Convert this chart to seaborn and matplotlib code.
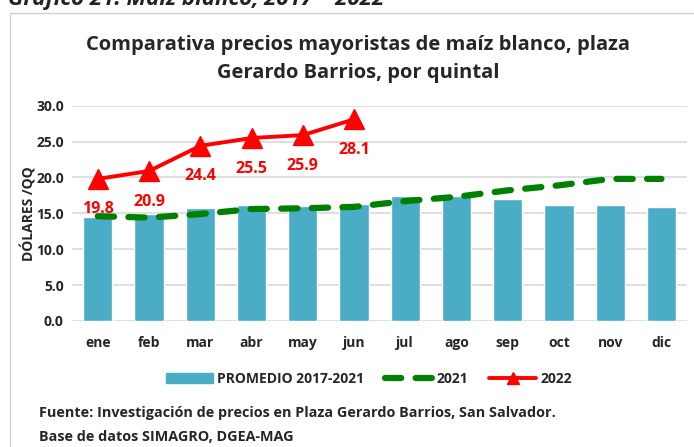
import matplotlib
matplotlib.use("Agg")
import matplotlib.pyplot as plt
import matplotlib.patches as mpatches
from matplotlib.lines import Line2D
import seaborn as sns
import numpy as np
import pandas as pd

# data
meses = ['ene', 'feb', 'mar', 'abr', 'may', 'jun', 'jul', 'ago', 'sep', 'oct', 'nov', 'dic']
promedio = [14.5, 14.9, 15.7, 16.2, 16.0, 16.3, 17.4, 17.4, 17.0, 16.2, 16.1, 15.9]
precio_2021 = [14.6, 14.4, 14.9, 15.6, 15.7, 15.9, 16.7, 17.3, 18.2, 18.9, 19.8, 19.8]
precio_2022 = [19.8, 20.9, 24.4, 25.5, 25.9, 28.1]

sns.set_theme(style="white")
plt.rcParams['font.family'] = ['Open Sans', 'DejaVu Sans']

fig = plt.figure(figsize=(6.94, 4.47), dpi=100)
ax = fig.add_axes([0.104, 0.282, 0.886, 0.4815])

# outer frame of the chart box
fig.patches.append(mpatches.Rectangle((10/694, -0.05), 1.0, 1 - 13/447 + 0.05,
                                      transform=fig.transFigure, fill=False,
                                      edgecolor='#d0d0d0', linewidth=1.0))

df = pd.DataFrame({'mes': meses, 'promedio': promedio})
sns.barplot(data=df, x='mes', y='promedio', color='#4bacc6', saturation=1,
            width=0.57, ax=ax, zorder=2)

x = np.arange(len(meses))
ax.plot(x, precio_2021, color='#008000', lw=4.5, dashes=(2.6, 2.3),
        dash_capstyle='round', zorder=3)
x22 = np.arange(len(precio_2022))
ax.plot(x22, precio_2022, color='#ff0000', lw=2.8, marker='^', markersize=15,
        zorder=4)
for xi, v in zip(x22, precio_2022):
    ax.annotate(f'{v:.1f}', (xi, v), xytext=(0, -22), textcoords='offset points',
                ha='center', va='center', color='#ff0000', fontsize=11.5,
                fontweight='bold', zorder=5)

ax.set_ylim(0, 30)
ax.set_xlim(-0.5, 11.5)
ax.set_yticks(np.arange(0, 31, 5))
ax.set_yticklabels([f'{t:.1f}' for t in np.arange(0, 31, 5)], fontsize=10, fontweight='bold')
ax.set_xticks(x)
ax.set_xticklabels(meses, fontsize=10, fontweight='bold')
ax.tick_params(axis='x', pad=11, length=0)
ax.tick_params(axis='y', length=0, pad=6)
ax.set_xlabel('')
ax.set_ylabel('DÓLARES /QQ', fontsize=10, fontweight='bold', labelpad=0)
ax.grid(axis='y', color='#d9d9d9', lw=1.2, zorder=0)
ax.set_axisbelow(True)
for s in ax.spines.values():
    s.set_visible(False)

fig.text(8/694, 1 + 1/447, 'Gráfico 21: Maíz blanco, 2017 – 2022', fontsize=16,
         fontweight='bold', fontstyle='italic', color='#222222', va='center', ha='left')
fig.text(358/694, 1 - 59/447,
         'Comparativa precios mayoristas de maíz blanco, plaza\nGerardo Barrios, por quintal',
         fontsize=14.5, fontweight='bold', ha='center', va='center', linespacing=1.5)

handles = [mpatches.Patch(color='#4bacc6'),
           Line2D([], [], color='#008000', lw=4.5, dashes=(2.6, 2.3), dash_capstyle='round'),
           Line2D([], [], color='#ff0000', lw=2.8, marker='^', markersize=8)]
fig.legend(handles, ['PROMEDIO 2017-2021', '2021', '2022'], loc='center',
           bbox_to_anchor=(369/694, 1 - 379/447), ncol=3, frameon=False,
           prop={'weight': 'bold', 'size': 10}, handlelength=3.4, columnspacing=1.5,
           handletextpad=0.3)

fig.text(39/694, 1 - 413/447, 'Fuente: Investigación de precios en Plaza Gerardo Barrios, San Salvador.',
         fontsize=10.4, fontweight='bold', va='center', ha='left')
fig.text(39/694, 1 - 437/447, 'Base de datos SIMAGRO, DGEA-MAG',
         fontsize=10.4, fontweight='bold', va='center', ha='left')

fig.savefig('out.png', dpi=100)
